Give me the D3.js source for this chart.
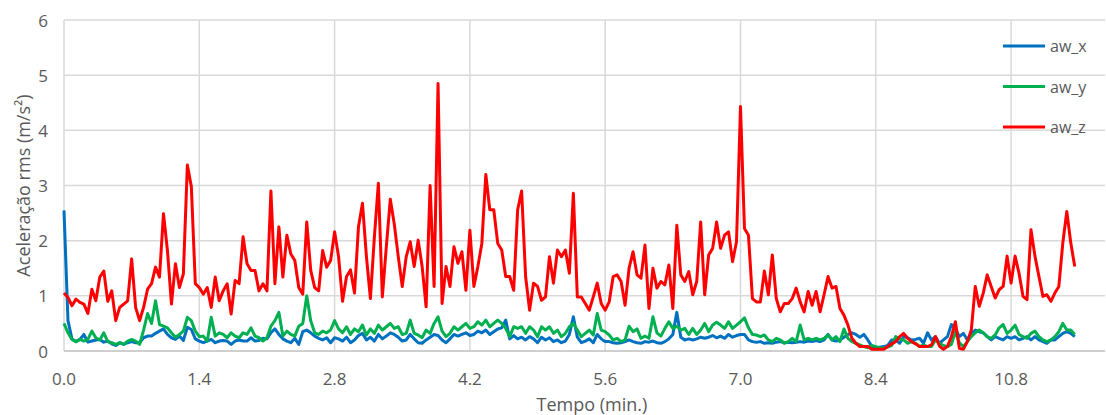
<!DOCTYPE html>
<html>
<head>
<meta charset="utf-8">
<script src="https://cdn.jsdelivr.net/npm/d3@7"></script>
<style>
  body { margin: 0; background: #fff; }
  svg { display: block; }
  text { font-family: "Open Sans", "Noto Sans", sans-serif; fill: #595959; }
</style>
</head>
<body>
<svg id="chart" width="1106" height="415"></svg>
<script>
// Weighted rms acceleration per axis, one value per sample
const seriesNames = ["aw_x", "aw_y", "aw_z"];
const seriesColors = ["#0070C0", "#00B050", "#FF0000"];

const awX = [
  2.55, 0.55, 0.22, 0.17, 0.21, 0.3, 0.16, 0.18, 0.2, 0.21,
  0.16, 0.18, 0.13, 0.1, 0.15, 0.12, 0.15, 0.17, 0.15, 0.15,
  0.24, 0.27, 0.27, 0.32, 0.36, 0.4, 0.3, 0.24, 0.21, 0.27,
  0.19, 0.43, 0.39, 0.22, 0.18, 0.15, 0.18, 0.21, 0.15, 0.18,
  0.19, 0.18, 0.12, 0.18, 0.2, 0.18, 0.18, 0.24, 0.18, 0.19,
  0.23, 0.22, 0.33, 0.4, 0.3, 0.22, 0.18, 0.15, 0.23, 0.12,
  0.35, 0.38, 0.33, 0.27, 0.23, 0.2, 0.24, 0.15, 0.24,
  0.22, 0.18, 0.25, 0.15, 0.2, 0.28, 0.32, 0.2, 0.25, 0.18, 0.3,
  0.22, 0.27, 0.33, 0.3, 0.25, 0.18, 0.2, 0.3, 0.22, 0.15,
  0.14, 0.2, 0.25, 0.3, 0.28, 0.2, 0.15, 0.22, 0.3, 0.27,
  0.3, 0.33, 0.28, 0.3, 0.36, 0.33, 0.38, 0.3, 0.35, 0.4,
  0.42, 0.56, 0.22, 0.28, 0.22, 0.25, 0.2, 0.26, 0.22, 0.15,
  0.25, 0.2, 0.24, 0.17, 0.2, 0.15, 0.18, 0.3, 0.62, 0.25,
  0.15, 0.18, 0.22, 0.15, 0.3, 0.22, 0.17,
  0.17, 0.15, 0.14, 0.15, 0.17, 0.2, 0.17, 0.15, 0.14, 0.17,
  0.16, 0.18, 0.15, 0.14, 0.17, 0.22, 0.3, 0.7, 0.25, 0.2,
  0.22, 0.2, 0.22, 0.25, 0.23, 0.25, 0.28, 0.24, 0.27, 0.23,
  0.3, 0.25, 0.28, 0.3, 0.3, 0.2, 0.17, 0.16, 0.17, 0.14,
  0.15, 0.14, 0.16, 0.17, 0.15, 0.16, 0.15, 0.16, 0.17, 0.16,
  0.18, 0.17, 0.19, 0.17, 0.2, 0.3, 0.2, 0.18, 0.2, 0.25,
  0.3, 0.33, 0.3, 0.25, 0.3, 0.2,
  0.08, 0.05, 0.07, 0.08, 0.1, 0.2, 0.2, 0.14, 0.26, 0.24,
  0.2, 0.21, 0.23, 0.14, 0.33, 0.2, 0.26, 0.14, 0.2, 0.26,
  0.48, 0.4, 0.26, 0.32, 0.2, 0.32, 0.38, 0.35, 0.33, 0.26,
  0.2, 0.26, 0.23, 0.2, 0.26, 0.23, 0.26, 0.2, 0.23, 0.26,
  0.2, 0.26, 0.2, 0.17, 0.14, 0.2, 0.2, 0.26, 0.32, 0.35, 0.32, 0.26
];

const awY = [
  0.5, 0.33, 0.21, 0.17, 0.21, 0.18, 0.21, 0.36, 0.24, 0.2,
  0.33, 0.17, 0.15, 0.12, 0.15, 0.12, 0.18, 0.21, 0.18, 0.12,
  0.38, 0.68, 0.5, 0.91, 0.48, 0.45, 0.42, 0.33, 0.25, 0.3,
  0.36, 0.61, 0.55, 0.36, 0.26, 0.27, 0.18, 0.61, 0.27, 0.33,
  0.3, 0.24, 0.33, 0.27, 0.24, 0.33, 0.3, 0.42, 0.27, 0.24,
  0.18, 0.24, 0.45, 0.55, 0.7, 0.27, 0.36, 0.3, 0.27, 0.45,
  0.5, 1.0, 0.55, 0.33, 0.3, 0.36, 0.33, 0.38, 0.55,
  0.4, 0.33, 0.44, 0.3, 0.4, 0.35, 0.47, 0.29, 0.4, 0.32, 0.47,
  0.38, 0.44, 0.5, 0.41, 0.44, 0.3, 0.32, 0.56, 0.32, 0.29,
  0.24, 0.38, 0.32, 0.5, 0.62, 0.36, 0.26, 0.32, 0.44, 0.38,
  0.44, 0.5, 0.41, 0.44, 0.53, 0.47, 0.56, 0.44, 0.5, 0.56,
  0.5, 0.41, 0.26, 0.44, 0.41, 0.44, 0.32, 0.44, 0.38, 0.26,
  0.44, 0.38, 0.44, 0.32, 0.38, 0.26, 0.32, 0.44, 0.5, 0.38,
  0.26, 0.32, 0.38, 0.29, 0.68, 0.38, 0.35,
  0.29, 0.2, 0.23, 0.17, 0.2, 0.45, 0.35, 0.4, 0.23, 0.27,
  0.23, 0.62, 0.33, 0.27, 0.41, 0.53, 0.41, 0.45, 0.38, 0.41,
  0.3, 0.41, 0.3, 0.38, 0.5, 0.35, 0.47, 0.52, 0.47, 0.41,
  0.53, 0.41, 0.47, 0.53, 0.6, 0.42, 0.3, 0.29, 0.26, 0.29,
  0.2, 0.17, 0.23, 0.2, 0.14, 0.17, 0.23, 0.17, 0.47, 0.2,
  0.23, 0.2, 0.23, 0.2, 0.23, 0.29, 0.2, 0.26, 0.17, 0.4,
  0.23, 0.17, 0.14, 0.11, 0.08, 0.06,
  0.1, 0.08, 0.06, 0.05, 0.07, 0.1, 0.26, 0.22, 0.2, 0.14,
  0.17, 0.14, 0.08, 0.11, 0.08, 0.08, 0.2, 0.14, 0.1, 0.08,
  0.12, 0.35, 0.15, 0.08, 0.17, 0.26, 0.33, 0.38, 0.33, 0.26,
  0.23, 0.29, 0.42, 0.48, 0.32, 0.38, 0.47, 0.3, 0.26, 0.23,
  0.32, 0.36, 0.26, 0.2, 0.17, 0.2, 0.26, 0.35, 0.5, 0.38, 0.38, 0.3
];

const awZ = [
  1.05, 0.97, 0.82, 0.94, 0.88, 0.85, 0.68, 1.12, 0.91, 1.34,
  1.45, 0.9, 1.09, 0.55, 0.79, 0.85, 0.91, 1.67, 0.79, 0.55,
  0.79, 1.12, 1.22, 1.52, 1.34, 2.49, 1.82, 0.85, 1.58, 1.15,
  1.4, 3.37, 2.98, 1.22, 1.15, 1.03, 1.15, 0.79, 1.34, 0.91,
  1.09, 1.22, 0.67, 1.28, 1.22, 2.07, 1.58, 1.46, 1.46, 1.09,
  1.22, 1.09, 2.9, 1.22, 2.25, 1.34, 2.1, 1.76, 1.64, 1.15,
  1.03, 2.34, 1.46, 1.15, 1.09, 1.82, 1.52, 1.64, 2.16,
  1.71, 0.9, 1.35, 1.47, 1.05, 2.25, 2.68, 1.71, 0.95, 2.07, 3.04,
  0.98, 1.89, 2.75, 2.3, 1.71, 1.17, 1.71, 1.98, 1.53, 2.01,
  1.53, 0.8, 3.0, 1.17, 4.85, 0.86, 1.53, 1.17, 1.89, 1.59,
  1.8, 1.1, 2.19, 1.17, 1.53, 1.95, 3.2, 2.56, 2.56, 1.95,
  1.83, 1.35, 1.35, 1.1, 2.56, 2.9, 1.35, 0.74, 1.23, 1.17,
  0.92, 0.98, 1.71, 1.23, 1.83, 1.71, 1.83, 1.41, 2.86, 0.98,
  0.98, 0.86, 0.74, 0.98, 1.23, 0.86, 0.74,
  0.89, 1.35, 1.38, 1.26, 0.83, 1.5, 1.8, 1.38, 1.32, 1.92,
  0.77, 1.5, 1.14, 1.26, 1.2, 1.56, 0.77, 2.28, 1.38, 1.26,
  1.44, 1.02, 1.26, 2.34, 1.02, 1.74, 1.86, 2.34, 1.86, 2.1,
  2.16, 1.62, 1.98, 4.43, 2.22, 2.1, 0.95, 0.89, 0.89, 1.45,
  1.02, 1.74, 0.95, 0.71, 0.86, 0.86, 0.95, 1.14, 0.89, 0.71,
  1.08, 0.83, 1.08, 0.71, 1.02, 1.35, 1.14, 1.17, 0.77, 0.65,
  0.47, 0.23, 0.14, 0.08, 0.08, 0.08,
  0.03, 0.03, 0.03, 0.03, 0.08, 0.13, 0.17, 0.26, 0.32, 0.23,
  0.17, 0.13, 0.08, 0.08, 0.08, 0.11, 0.26, 0.09, 0.03, 0.08,
  0.26, 0.53, 0.05, 0.03, 0.17, 0.38, 1.17, 0.81, 1.05, 1.38,
  1.17, 0.96, 1.11, 1.17, 1.72, 1.23, 1.72, 1.41, 0.99, 0.93,
  2.2, 1.72, 1.35, 0.99, 1.02, 0.9, 1.05, 1.17, 1.96, 2.53, 1.96, 1.53
];

// Time labels shown every 34 samples along the category axis
const tickLabels = ["0.0", "1.4", "2.8", "4.2", "5.6", "7.0", "8.4", "10.8"];
const samplesPerTick = 34;
const yTicks = [0, 1, 2, 3, 4, 5, 6];

const series = [awX, awY, awZ];

const svg = d3.select("#chart");
const plot = { left: 64, top: 20, right: 1105, bottom: 351 };

const x = d3.scaleLinear().domain([0, 261.6]).range([plot.left, plot.right]);
const y = d3.scaleLinear().domain([0, 6]).range([plot.bottom, plot.top]);

// horizontal gridlines
svg.append("g").selectAll("line").data(yTicks.filter(d => d > 0)).join("line")
  .attr("x1", plot.left).attr("x2", plot.right)
  .attr("y1", d => y(d)).attr("y2", d => y(d))
  .attr("stroke", "#d9d9d9").attr("stroke-width", 1.5);

// vertical gridlines at labelled samples
const tickIdx = tickLabels.map((_, i) => i * samplesPerTick);
svg.append("g").selectAll("line").data(tickIdx).join("line")
  .attr("x1", d => x(d)).attr("x2", d => x(d))
  .attr("y1", plot.top).attr("y2", plot.bottom)
  .attr("stroke", "#d9d9d9").attr("stroke-width", 1.5);

// category axis line
svg.append("line")
  .attr("x1", plot.left).attr("x2", plot.right)
  .attr("y1", plot.bottom).attr("y2", plot.bottom)
  .attr("stroke", "#bfbfbf").attr("stroke-width", 1.5);

// y tick labels
svg.append("g").selectAll("text").data(yTicks).join("text")
  .attr("x", 48).attr("y", d => y(d))
  .attr("text-anchor", "end").attr("dominant-baseline", "central")
  .attr("font-size", 17).text(d => d);

// x tick labels
svg.append("g").selectAll("text").data(tickLabels).join("text")
  .attr("x", (d, i) => x(tickIdx[i])).attr("y", 385)
  .attr("text-anchor", "middle").attr("font-size", 17).text(d => d);

// axis titles
svg.append("text")
  .attr("x", 592).attr("y", 411).attr("text-anchor", "middle")
  .attr("font-size", 18).text("Tempo (min.)");
svg.append("text")
  .attr("transform", `translate(23,${(plot.top + plot.bottom) / 2}) rotate(-90)`)
  .attr("text-anchor", "middle").attr("dominant-baseline", "central")
  .attr("font-size", 18).text("Aceleração rms (m/s²)");

// series lines
const line = d3.line().x((d, i) => x(i)).y(d => y(d));
svg.append("g").selectAll("path").data(series).join("path")
  .attr("d", d => line(d))
  .attr("fill", "none")
  .attr("stroke", (d, i) => seriesColors[i])
  .attr("stroke-width", 3)
  .attr("stroke-linejoin", "round");

// legend
const legend = svg.append("g").selectAll("g").data(seriesNames).join("g")
  .attr("transform", (d, i) => `translate(1003,${46 + i * 40.5})`);
legend.append("line")
  .attr("x1", 0).attr("x2", 42).attr("y1", 0).attr("y2", 0)
  .attr("stroke", (d, i) => seriesColors[i]).attr("stroke-width", 3);
legend.append("text")
  .attr("x", 47).attr("y", 0).attr("dominant-baseline", "central")
  .attr("font-size", 16).text(d => d);
</script>
</body>
</html>
